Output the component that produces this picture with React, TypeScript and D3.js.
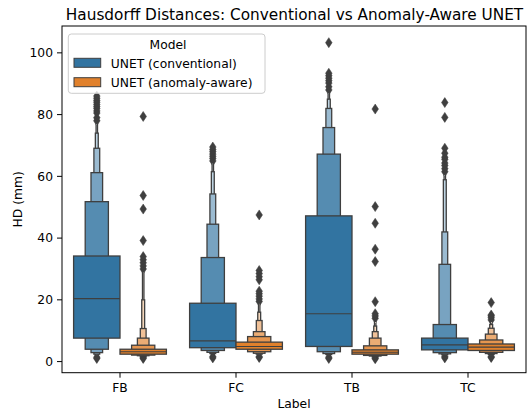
import React from "react";
import * as d3 from "d3";

const labels = ["FB", "FC", "TB", "TC"];
const models = ["UNET (conventional)", "UNET (anomaly-aware)"];
const colors = ["#3274a1", "#e1812c"];
const yTicks = [0, 20, 40, 60, 80, 100];

// letter-value box ends, index 0 = IQR box, then outwards
const convUpper = [
  [34.2, 51.8, 61.2, 69.1, 74, 77],
  [18.9, 33.7, 44.5, 54.3, 61.5, 64.3],
  [47.2, 67.2, 75.8, 82, 85, 87],
  [7.6, 12.0, 31.5, 42.0, 58.9, 60.5],
];
const convLower = [
  [7.6, 4.0, 2.9, 2.4, 2.1, 1.9],
  [4.5, 3.6, 3.0, 2.6, 2.3, 2.1],
  [4.9, 3.2, 2.6, 2.3, 2.1, 1.9],
  [3.8, 2.9, 2.5, 2.2, 2.0, 1.9],
];
const convMedian = [20.4, 6.7, 15.5, 5.4];
const convOutliers = [
  [1.0, 1.4, 78, 79, 80.5, 81.2, 82, 82.6, 83.3, 84, 84.6, 85.3, 86],
  [1.2, 1.6, 65, 65.8, 66.5, 67.2, 68, 68.7, 69.5],
  [1.0, 1.4, 88, 89, 90.2, 91, 91.8, 92.6, 93.4, 103.3],
  [1.2, 1.6, 61.5, 62.5, 63.5, 64.3, 65.5, 66.2, 67.5, 69.1, 79.1, 83.9],
];

const anomUpper = [
  [4.0, 5.3, 7.6, 10.7, 20, 29],
  [6.3, 8.1, 9.7, 13.3, 16, 18.9],
  [3.8, 5.1, 7.6, 9.7, 11.5, 13],
  [5.7, 7.0, 8.9, 10.8, 12, 13],
];
const anomLower = [
  [2.4, 2.1, 1.9, 1.7, 1.6, 1.5],
  [4.0, 3.2, 2.7, 2.4, 2.2, 2.0],
  [2.4, 2.0, 1.8, 1.6, 1.5, 1.4],
  [3.6, 3.0, 2.6, 2.3, 2.1, 2.0],
];
const anomMedian = [3.2, 4.9, 3.0, 4.7];
const anomOutliers = [
  [1.0, 1.3, 30, 31, 32, 33, 34, 39.2, 49.4, 53.8, 79.4],
  [1.3, 1.6, 19.5, 20.3, 21.2, 22, 22.8, 26.5, 27.5, 28.5, 29.5, 47.5],
  [0.9, 1.2, 14.0, 14.8, 15.5, 19.4, 32.4, 36.4, 44.8, 50.2, 81.8],
  [1.3, 1.6, 13.5, 14.2, 14.8, 15.1, 19.1],
];

const W = 529;
const H = 411;
const left = 62;
const right = 526;
const top = 26;
const bottom = 372.7;
const gray = "#3f3f3f";
const font = "DejaVu Sans, sans-serif";
const fs = 12.3;

const x = d3.scaleBand<string>().domain(labels).range([left, right]).padding(0);
const y = d3.scaleLinear().domain([-3.6, 108.7]).range([bottom, top]);

const diamond = (cx: number, cy: number) =>
  `M${cx},${cy - 5}L${cx + 3.3},${cy}L${cx},${cy + 5}L${cx - 3.3},${cy}Z`;

function Boxen({ cx, upper, lower, median, outliers, base }: any) {
  const full = x.bandwidth() * 0.4;
  const n = upper.length;
  const light = d3.interpolateRgb(base, "#ffffff");
  const levels = d3.range(n).reverse(); // narrowest first, IQR box last
  return (
    <g>
      {outliers.map((v: number, i: number) => (
        <path key={"o" + i} d={diamond(cx, y(v))} fill={gray} stroke={gray} strokeWidth={0.5} />
      ))}
      {levels.map((j) => {
        const w = full / Math.pow(2, j);
        const t = (j / (n - 1)) * 0.85;
        return (
          <rect
            key={"b" + j}
            x={cx - w / 2}
            y={y(upper[j])}
            width={w}
            height={y(lower[j]) - y(upper[j])}
            fill={light(t)}
            stroke={gray}
            strokeWidth={1.3}
          />
        );
      })}
      <line x1={cx - full / 2} x2={cx + full / 2} y1={y(median)} y2={y(median)} stroke={gray} strokeWidth={1.1} />
    </g>
  );
}

export default function App() {
  const off = x.bandwidth() * 0.2;
  return (
    <svg width={W} height={H} style={{ position: "absolute", left: 0, top: 0, background: "#fff" }} fontFamily={font}>
      <text x={(left + right) / 2 + 0.5} y={20} textAnchor="middle" fontSize={15.3}>
        Hausdorff Distances: Conventional vs Anomaly-Aware UNET
      </text>
      {labels.map((l, i) => {
        const c = (x(l) as number) + x.bandwidth() / 2;
        return (
          <g key={l}>
            <Boxen cx={c - off} upper={convUpper[i]} lower={convLower[i]} median={convMedian[i]} outliers={convOutliers[i]} base={colors[0]} />
            <Boxen cx={c + off} upper={anomUpper[i]} lower={anomLower[i]} median={anomMedian[i]} outliers={anomOutliers[i]} base={colors[1]} />
          </g>
        );
      })}
      <rect x={left} y={top} width={right - left} height={bottom - top} fill="none" stroke="#000" strokeWidth={1} />
      {yTicks.map((t) => (
        <g key={t}>
          <line x1={left - 5} x2={left} y1={y(t)} y2={y(t)} stroke="#000" strokeWidth={1} />
          <text x={left - 9} y={y(t) + 4.4} textAnchor="end" fontSize={fs}>
            {t}
          </text>
        </g>
      ))}
      {labels.map((l) => {
        const c = (x(l) as number) + x.bandwidth() / 2;
        return (
          <g key={"t" + l}>
            <line x1={c} x2={c} y1={bottom} y2={bottom + 5} stroke="#000" strokeWidth={1} />
            <text x={c} y={391.5} textAnchor="middle" fontSize={fs}>
              {l}
            </text>
          </g>
        );
      })}
      <text x={(left + right) / 2} y={408} textAnchor="middle" fontSize={fs}>
        Label
      </text>
      <text transform={`translate(21.5,${(top + bottom) / 2}) rotate(-90)`} textAnchor="middle" fontSize={fs}>
        HD (mm)
      </text>
      <g>
        <rect x={68.3} y={34} width={196.7} height={59.3} rx={3} fill="#fff" fillOpacity={0.8} stroke="#cccccc" strokeWidth={1} />
        <text x={168} y={49.3} textAnchor="middle" fontSize={fs}>
          Model
        </text>
        {models.map((m, i) => (
          <g key={m}>
            <rect x={74} y={58.3 + i * 19.4} width={26.7} height={9} fill={colors[i]} stroke={gray} strokeWidth={1} />
            <text x={110.7} y={67.5 + i * 19.4} fontSize={fs}>
              {m}
            </text>
          </g>
        ))}
      </g>
    </svg>
  );
}
